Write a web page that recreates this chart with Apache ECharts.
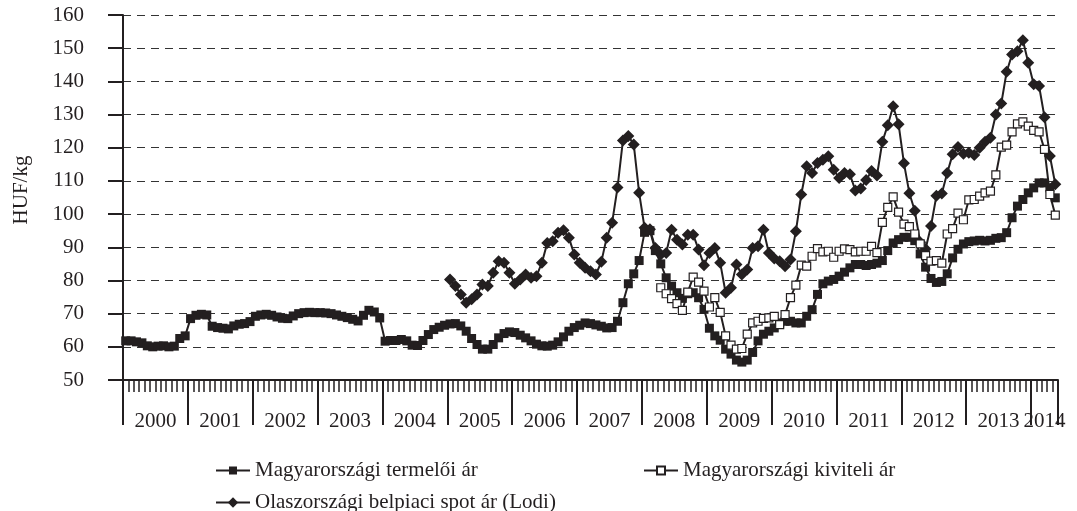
<!DOCTYPE html>
<html>
<head>
<meta charset="UTF-8">
<title>HUF/kg árak</title>
<script src="https://cdn.jsdelivr.net/npm/echarts@6.0.0/dist/echarts.min.js"></script>
<style>
  html, body { margin: 0; padding: 0; background: #fff; }
  #container { width: 1077px; height: 511px; }
</style>
</head>
<body>
<div id="container"></div>
<script>
// évek (2014: csak január-május)
var years = ['2000', '2001', '2002', '2003', '2004', '2005', '2006', '2007',
             '2008', '2009', '2010', '2011', '2012', '2013', '2014'];
var monthsInYear = [12, 12, 12, 12, 12, 12, 12, 12, 12, 12, 12, 12, 12, 12, 5];

// Magyarországi termelői ár, 2000.01 - 2014.05
var producer = [
  61.8, 61.8, 61.5, 61.2, 60.3, 60.0, 60.2, 60.3, 60.0, 60.2, 62.5, 63.3,
  68.5, 69.5, 69.8, 69.6, 66.2, 65.8, 65.6, 65.4, 66.3, 66.8, 67.0, 67.6,
  69.2, 69.6, 69.8, 69.5, 69.0, 68.6, 68.5, 69.3, 70.0, 70.3, 70.4, 70.3,
  70.3, 70.2, 70.0, 69.6, 69.2, 68.8, 68.3, 67.8, 69.5, 71.0, 70.5, 68.7,
  61.7, 61.9, 61.9, 62.2, 61.8, 60.5, 60.4, 61.9, 63.7, 65.2, 65.9, 66.5,
  66.9, 67.0, 66.3, 64.7, 62.5, 60.7, 59.3, 59.3, 60.7, 62.7, 64.0, 64.5,
  64.3, 63.5, 62.7, 61.8, 60.8, 60.3, 60.2, 60.5, 61.5, 63.0, 64.7, 65.8,
  66.5, 67.2, 67.0, 66.6, 66.2, 65.7, 65.8, 67.7, 73.3, 79.0, 82.0, 86.0,
  94.5, 95.0, 89.0, 85.0, 80.8, 78.3, 76.3, 74.6, 76.0, 76.3, 74.8, 71.3,
  65.6, 63.3, 62.0, 59.3, 57.8, 56.0, 55.4, 56.0, 58.3, 61.8, 63.8, 64.7,
  65.7, 67.2, 67.7, 67.7, 67.2, 67.2, 69.2, 71.2, 75.8, 79.0, 79.8, 80.3,
  81.3, 82.5, 83.8, 84.8, 84.8, 84.5, 84.8, 85.2, 86.0, 89.0, 91.3, 92.3,
  93.0, 93.0, 92.0, 88.0, 84.0, 80.6, 79.4, 79.7, 82.0, 86.8, 89.4, 91.0,
  91.7, 91.9, 92.1, 91.9, 92.1, 92.7, 92.9, 94.4, 98.9, 102.4, 104.4, 106.4,
  107.9, 109.4, 109.4, 107.9, 104.9
];

// Magyarországi kiviteli ár, 2008.04-tól
var exportStart = 99;
var exported = [
  77.8, 76.0, 74.5, 73.0, 71.0, 76.5, 81.0, 79.5, 76.8,
  72.0, 74.8, 70.4, 63.3, 60.5, 59.3, 59.5, 63.8, 67.2, 67.7, 68.6, 68.7,
  69.2, 66.7, 69.7, 74.8, 78.6, 84.6, 84.3, 87.3, 89.6, 88.6, 88.8, 87.0,
  88.8, 89.5, 89.3, 88.6, 88.8, 88.8, 90.3, 88.4, 97.5, 102.0, 105.2, 100.6,
  97.0, 96.2, 94.0, 91.0, 87.5, 85.8, 86.0, 85.2, 94.0, 95.6, 100.3, 98.3,
  104.3, 104.4, 105.4, 106.4, 106.9, 111.8, 120.2, 120.8, 124.8, 127.2, 127.8, 126.5,
  125.2, 124.8, 119.5, 105.9, 99.7
];

// Olaszországi belpiaci spot ár (Lodi), 2005.01-től
var italyStart = 60;
var italy = [
  80.3, 78.3, 75.8, 73.3, 74.3, 75.8, 78.8, 78.3, 82.3, 85.8, 85.3, 82.3,
  79.0, 80.3, 81.8, 80.8, 81.3, 85.3, 91.3, 91.8, 94.4, 95.1, 92.9, 87.8,
  85.3, 83.8, 82.8, 81.8, 85.6, 92.9, 97.4, 108.0, 122.2, 123.5, 121.0, 106.4,
  95.9, 95.4, 89.8, 87.8, 88.3, 95.3, 92.3, 90.8, 93.8, 93.8, 89.3, 84.6,
  88.3, 89.8, 85.3, 76.3, 77.8, 84.8, 81.8, 83.3, 89.8, 90.3, 95.3, 88.3,
  86.6, 85.8, 84.3, 86.3, 94.8, 105.9, 114.4, 112.4, 115.4, 116.4, 117.4, 113.4,
  110.9, 112.4, 112.0, 107.1, 107.7, 110.3, 113.0, 111.6, 121.8, 126.8, 132.5, 127.1,
  115.3, 106.3, 101.0, 91.5, 89.5, 96.4, 105.5, 106.2, 112.4, 118.0, 120.2, 118.2,
  118.5, 117.8, 120.0, 121.8, 123.0, 130.0, 133.3, 142.9, 148.1, 149.1, 152.4, 145.6,
  139.1, 138.6, 129.2, 117.5, 109.0
];

var seriesNames = ['Magyarországi termelői ár', 'Magyarországi kiviteli ár',
                   'Olaszországi belpiaci spot ár (Lodi)'];

// hónap kategóriák
var months = [];
var yearMid = {};
for (var y = 0; y < years.length; y++) {
  for (var m = 0; m < monthsInYear[y]; m++) {
    if (m === Math.floor(monthsInYear[y] / 2)) yearMid[months.length] = years[y];
    months.push(years[y] + '-' + (m + 1));
  }
}

function pad(arr, start) {
  var out = [];
  for (var i = 0; i < start; i++) out.push(null);
  return out.concat(arr);
}

var ink = '#231f20';
var font = "'Liberation Serif', 'Times New Roman', serif";
var legendText = { fontSize: 21, fontFamily: font, color: ink };

var dom = document.getElementById("container");
var myChart = echarts.init(dom);
var option = {
  animation: false,
  backgroundColor: '#fff',
  grid: { left: 123, right: 19, top: 15, bottom: 131, containLabel: false, outerBoundsMode: 'none' },
  legend: [
    { data: [seriesNames[0]], left: 210, top: 455, itemWidth: 34, itemHeight: 10, itemGap: 6, textStyle: legendText },
    { data: [seriesNames[1]], left: 638, top: 455, itemWidth: 34, itemHeight: 10, itemGap: 6, textStyle: legendText },
    { data: [seriesNames[2]], left: 210, top: 487, itemWidth: 34, itemHeight: 13, itemGap: 6, textStyle: legendText }
  ],
  xAxis: [
    {
      type: 'category', data: months, position: 'bottom', boundaryGap: true,
      axisLine: { show: true, lineStyle: { color: ink, width: 2 } },
      axisTick: { show: true, interval: 0, length: 12, lineStyle: { color: ink, width: 1.5 } },
      axisLabel: { show: false },
      splitLine: { show: false }
    },
    {
      type: 'category', data: months, position: 'bottom', offset: 0, boundaryGap: true,
      axisLine: { show: false },
      axisTick: { show: true, interval: function (i) { return i % 12 === 0; }, length: 45,
                  lineStyle: { color: ink, width: 2 } },
      axisLabel: {
        show: true,
        interval: function (i) { return yearMid[i] !== undefined; },
        formatter: function (v, i) {
          var yr = v.split('-')[0];
          return yr === '2014' ? '{e|' + yr + '}' : '{y|' + yr + '}';
        },
        margin: 31,
        rich: {
          y: { fontSize: 21, fontFamily: font, color: ink, padding: [0, 5.4, 0, 0] },
          e: { fontSize: 21, fontFamily: font, color: ink }
        }
      },
      splitLine: { show: false }
    }
  ],
  yAxis: {
    type: 'value', min: 50, max: 160, interval: 10,
    name: 'HUF/kg', nameLocation: 'middle', nameGap: 91, nameRotate: 90,
    nameTextStyle: { fontSize: 21, fontFamily: font, color: ink, padding: [0, 0, 0, 15] },
    axisLine: { show: true, lineStyle: { color: ink, width: 2 } },
    axisTick: { show: true, length: 15, lineStyle: { color: ink, width: 2 } },
    axisLabel: { margin: 39, fontSize: 21, fontFamily: font, color: ink },
    splitLine: { show: true, lineStyle: { color: '#333', width: 1, type: [8, 6] } }
  },
  series: [
    {
      name: seriesNames[2], type: 'line', data: pad(italy, italyStart),
      symbol: 'diamond', symbolSize: 12, showAllSymbol: true,
      itemStyle: { color: ink }, lineStyle: { color: ink, width: 2 }
    },
    {
      name: seriesNames[0], type: 'line', data: producer,
      symbol: 'rect', symbolSize: 9, showAllSymbol: true,
      itemStyle: { color: ink }, lineStyle: { color: ink, width: 2 }
    },
    {
      name: seriesNames[1], type: 'line', data: pad(exported, exportStart),
      symbol: 'rect', symbolSize: 8, showAllSymbol: true,
      itemStyle: { color: '#fff', borderColor: ink, borderWidth: 1.2 },
      lineStyle: { color: ink, width: 2 }
    }
  ]
};

if (option && typeof option === "object") {
  myChart.setOption(option, true);
}
</script>
</body>
</html>
